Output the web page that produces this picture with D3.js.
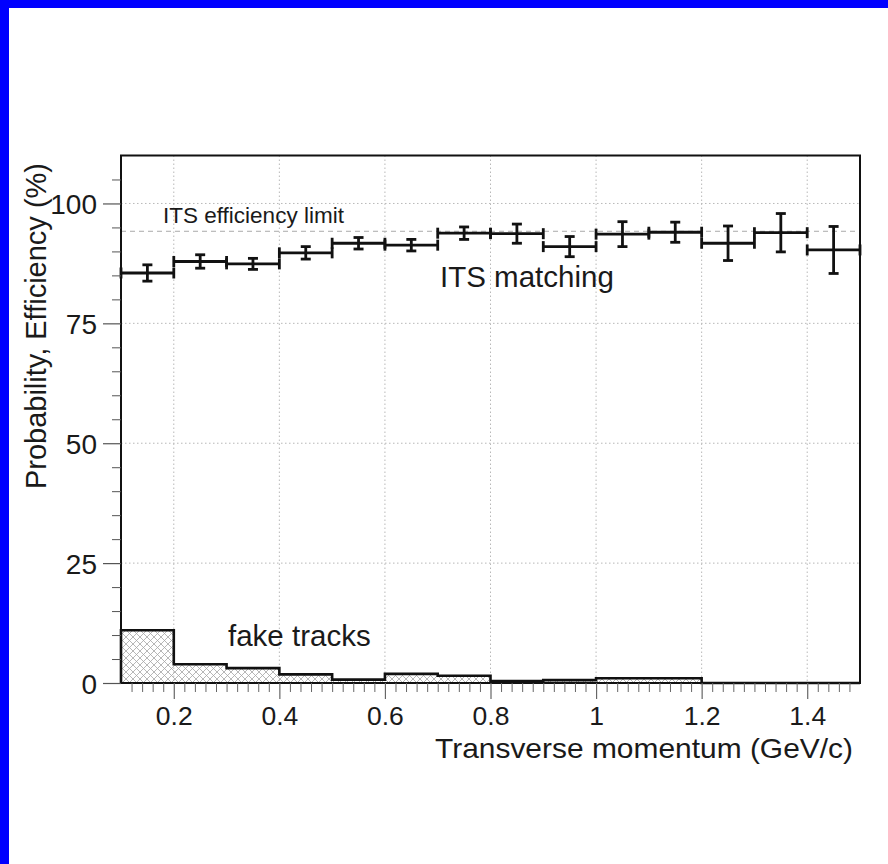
<!DOCTYPE html>
<html>
<head>
<meta charset="utf-8">
<script src="https://cdn.jsdelivr.net/npm/d3@7"></script>
<style>
  html, body { margin: 0; padding: 0; background: #fff; }
  svg { display: block; }
  text { font-family: "Liberation Sans", Arial, Helvetica, sans-serif; fill: #1a1a1a; }
</style>
</head>
<body>
<svg id="chart" width="888" height="864"></svg>
<script>
// ---- data ----
const binEdges = [0.1,0.2,0.3,0.4,0.5,0.6,0.7,0.8,0.9,1.0,1.1,1.2,1.3,1.4,1.5];
const itsMatching = [85.5,87.9,87.4,89.7,91.7,91.3,93.8,93.7,91.0,93.6,94.0,91.7,93.9,90.3];
const itsErrors   = [1.7, 1.4, 1.15,1.3, 1.2, 1.2, 1.3, 2.0, 2.1, 2.6, 2.1, 3.6, 4.0, 4.9];
const fakeTracks  = [11.0,3.9,3.1,1.8,0.7,1.9,1.5,0.4,0.6,1.0,1.0,0,0,0];
const efficiencyLimit = 94.2;
const xTicks = [0.2,0.4,0.6,0.8,1.0,1.2,1.4];
const xTickLabels = ["0.2","0.4","0.6","0.8","1","1.2","1.4"];
const yTicks = [0,25,50,75,100];
const yTickLabels = ["0","25","50","75","100"];
const xTitle = "Transverse momentum (GeV/c)";
const yTitle = "Probability, Efficiency (%)";

// ---- layout ----
const svg = d3.select("#chart");
const x = d3.scaleLinear().domain([0.1, 1.5]).range([121, 860]);
const y = d3.scaleLinear().domain([0, 110]).range([683, 155.5]);

// blue border strips
svg.append("rect").attr("x",0).attr("y",0).attr("width",888).attr("height",8).attr("fill","#0000ff");
svg.append("rect").attr("x",0).attr("y",0).attr("width",9).attr("height",864).attr("fill","#0000ff");

// hatch pattern
const defs = svg.append("defs");
const pat = defs.append("pattern").attr("id","hatch").attr("patternUnits","userSpaceOnUse")
  .attr("width",7).attr("height",7);
pat.append("path").attr("d","M0,0L7,7M7,0L0,7").attr("stroke","#a4a4a4").attr("stroke-width",0.8);

// grid
const grid = svg.append("g");
grid.selectAll("line.vx").data(xTicks).join("line")
  .attr("x1",d=>x(d)).attr("x2",d=>x(d)).attr("y1",y(110)).attr("y2",y(0))
  .attr("stroke","#b8b8b8").attr("stroke-width",1).attr("stroke-dasharray","1.5,2.5");
grid.selectAll("line.hy").data(yTicks.filter(d=>d>0)).join("line")
  .attr("x1",x(0.1)).attr("x2",x(1.5)).attr("y1",d=>y(d)).attr("y2",d=>y(d))
  .attr("stroke","#b8b8b8").attr("stroke-width",1).attr("stroke-dasharray","1.5,2.5");

// efficiency limit dashed line
svg.append("line").attr("x1",x(0.1)).attr("x2",x(1.5))
  .attr("y1",y(efficiencyLimit)).attr("y2",y(efficiencyLimit))
  .attr("stroke","#aaaaaa").attr("stroke-width",1).attr("stroke-dasharray","5,4");

// fake tracks histogram
const fakeBins = fakeTracks.map((v,i)=>({x0:binEdges[i], x1:binEdges[i+1], v}));
const stepPts = [[binEdges[0],0]];
fakeBins.forEach(b=>{ stepPts.push([b.x0,b.v]); stepPts.push([b.x1,b.v]); });
stepPts.push([binEdges[binEdges.length-1],0]);
const line = d3.line().x(d=>x(d[0])).y(d=>y(d[1]));
svg.append("path").attr("d", line(stepPts) + "Z").attr("fill","url(#hatch)").attr("stroke","none");
svg.append("path").attr("d", line(stepPts)).attr("fill","none").attr("stroke","#111")
  .attr("stroke-width",2.6).attr("stroke-linejoin","miter");

// ITS matching histogram with errors
const effBins = itsMatching.map((v,i)=>({x0:binEdges[i], x1:binEdges[i+1], v, e:itsErrors[i]}));
const eg = svg.append("g").attr("stroke","#111").attr("stroke-width",2.8).attr("fill","none");
effBins.forEach(b=>{
  const yc = y(b.v), xl = x(b.x0), xr = x(b.x1), xm = x((b.x0+b.x1)/2);
  eg.append("line").attr("x1",xl).attr("x2",xr).attr("y1",yc).attr("y2",yc);
  eg.append("line").attr("x1",xl).attr("x2",xl).attr("y1",yc-5.5).attr("y2",yc+5.5);
  eg.append("line").attr("x1",xr).attr("x2",xr).attr("y1",yc-5.5).attr("y2",yc+5.5);
  eg.append("line").attr("x1",xm).attr("x2",xm).attr("y1",y(b.v+b.e)).attr("y2",y(b.v-b.e));
  eg.append("line").attr("x1",xm-5).attr("x2",xm+5).attr("y1",y(b.v+b.e)).attr("y2",y(b.v+b.e));
  eg.append("line").attr("x1",xm-5).attr("x2",xm+5).attr("y1",y(b.v-b.e)).attr("y2",y(b.v-b.e));
});

// frame
svg.append("rect").attr("x",x(0.1)).attr("y",y(110)).attr("width",x(1.5)-x(0.1)).attr("height",y(0)-y(110))
  .attr("fill","none").attr("stroke","#111").attr("stroke-width",2);

// x axis ticks
const xMinor = d3.range(0.12, 1.5, 0.02).map(d=>+d.toFixed(2)).filter(d=>!xTicks.some(t=>Math.abs(t-d)<1e-6));
const xAxisMinor = d3.axisBottom(x).tickValues(xMinor).tickSize(9).tickFormat("");
const xAxisMajor = d3.axisBottom(x).tickValues(xTicks).tickSize(16).tickFormat((d,i)=>xTickLabels[i]);
const gxm = svg.append("g").attr("transform",`translate(0,${y(0)})`).call(xAxisMinor);
gxm.select(".domain").remove();
gxm.selectAll("line").attr("stroke","#666").attr("stroke-width",1);
const gx = svg.append("g").attr("transform",`translate(0,${y(0)})`).call(xAxisMajor);
gx.select(".domain").remove();
gx.selectAll("line").attr("stroke","#666").attr("stroke-width",1.2);
gx.selectAll("text").attr("y",42).attr("dy",0).attr("font-size",26.5).attr("fill","#1a1a1a");

// y axis ticks
const yMinor = d3.range(5, 110, 5).filter(d=>d%25!==0);
const yAxisMinor = d3.axisLeft(y).tickValues(yMinor).tickSize(9).tickFormat("");
const yAxisMajor = d3.axisLeft(y).tickValues(yTicks).tickSize(18).tickFormat((d,i)=>yTickLabels[i]);
const gym = svg.append("g").attr("transform",`translate(${x(0.1)},0)`).call(yAxisMinor);
gym.select(".domain").remove();
gym.selectAll("line").attr("stroke","#555").attr("stroke-width",1);
const gy = svg.append("g").attr("transform",`translate(${x(0.1)},0)`).call(yAxisMajor);
gy.select(".domain").remove();
gy.selectAll("line").attr("stroke","#555").attr("stroke-width",1.2);
gy.selectAll("text").attr("x",-24).attr("dy","0.36em").attr("font-size",28).attr("fill","#1a1a1a");

// axis titles
svg.append("text").attr("x",853).attr("y",758).attr("text-anchor","end")
  .attr("font-size",28.5).attr("textLength",418).attr("lengthAdjust","spacingAndGlyphs").text(xTitle);
svg.append("text").attr("transform","translate(46,163) rotate(-90)").attr("text-anchor","end")
  .attr("font-size",29).text(yTitle);

// annotations
svg.append("text").attr("x",163).attr("y",223).attr("font-size",22.5).text("ITS efficiency limit");
svg.append("text").attr("x",440).attr("y",287).attr("font-size",29.5).text("ITS matching");
svg.append("text").attr("x",228).attr("y",646).attr("font-size",29.5).text("fake tracks");
</script>
</body>
</html>
